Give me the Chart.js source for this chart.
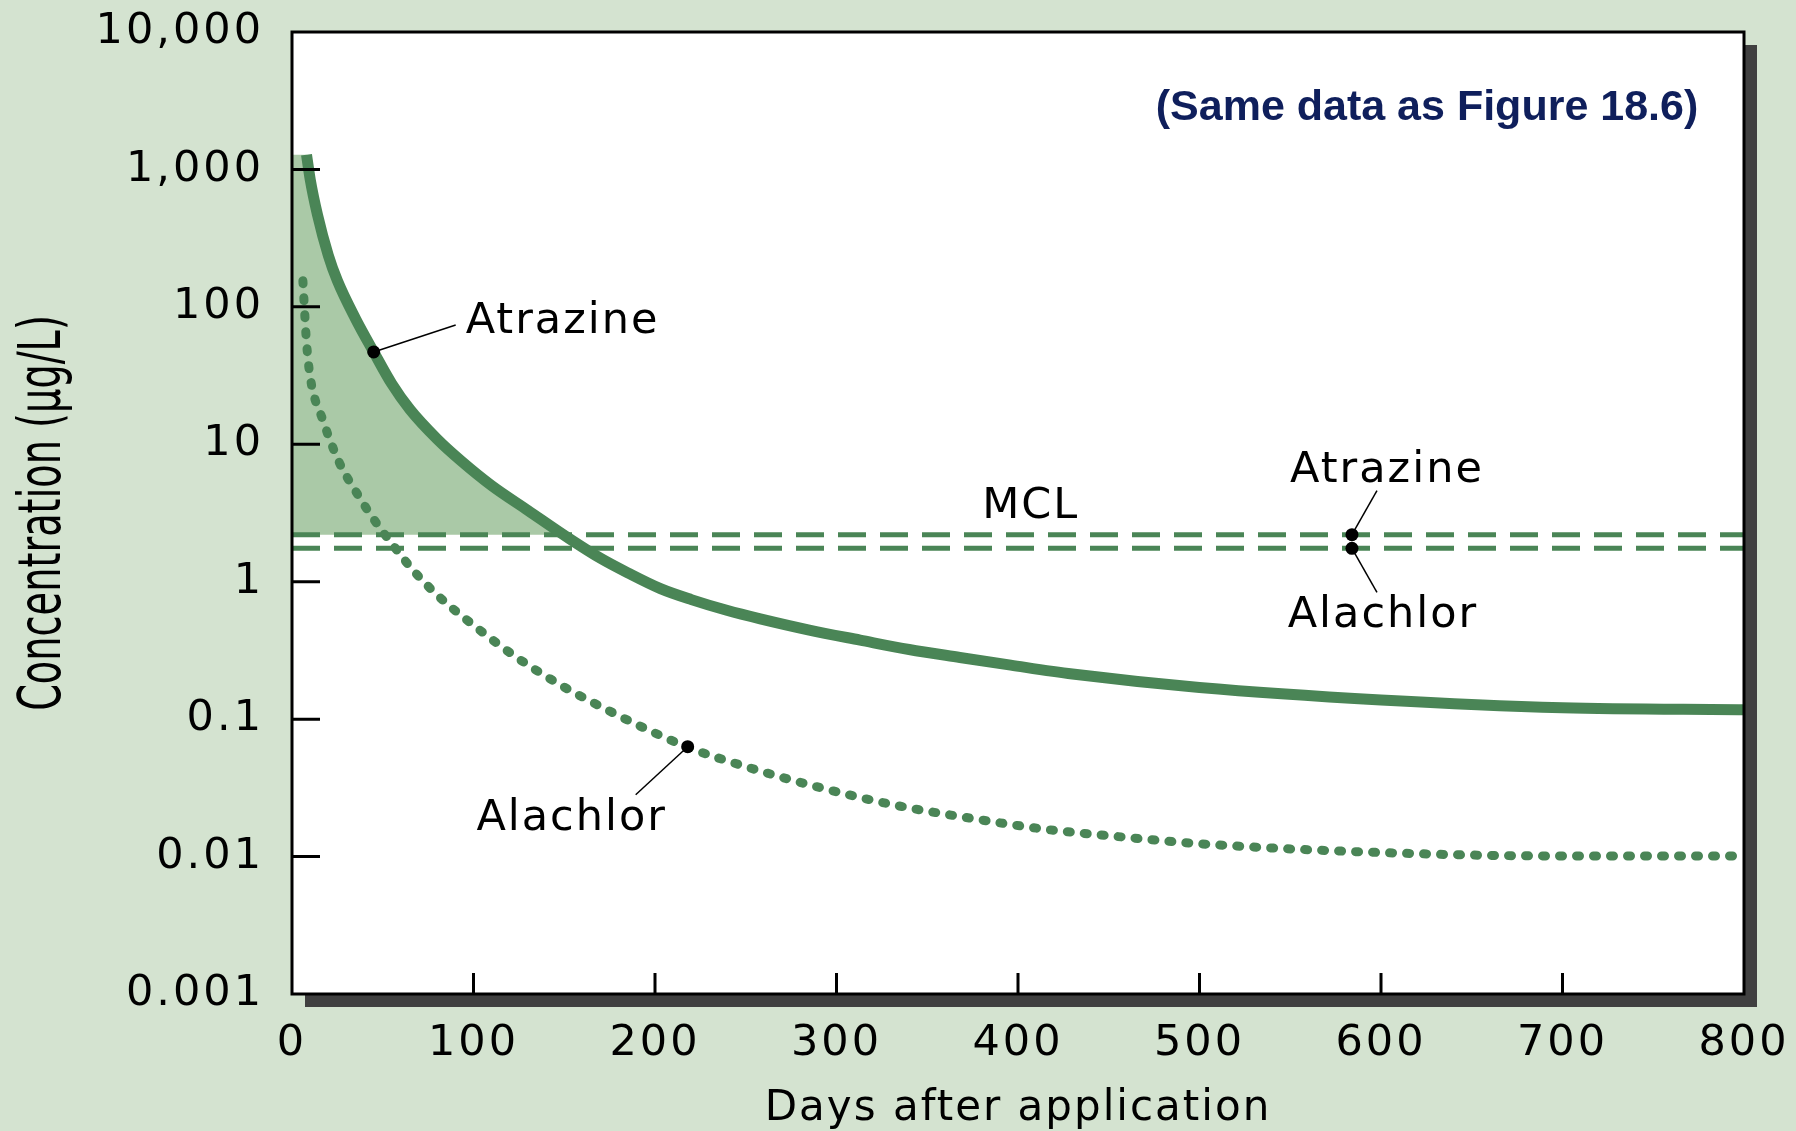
<!DOCTYPE html>
<html>
<head>
<meta charset="utf-8">
<script src="https://cdn.jsdelivr.net/npm/chart.js@4.4.1/dist/chart.umd.min.js"></script>
<style>
  html, body { margin: 0; padding: 0; background: #d4e3d0; }
  canvas { display: block; }
</style>
</head>
<body>
<canvas id="chart" width="1796" height="1131"></canvas>
<script>
// values: days after application vs concentration (ug/L)
const atrazineDays = [8, 10, 14, 20, 25, 35, 45, 55, 65, 80, 93, 110, 130, 153, 170, 185, 203, 220, 240, 258, 285, 313, 340, 368, 396, 430, 500, 600, 700, 800];
const atrazineConc = [1280, 850, 470, 237, 155, 82, 47, 27.5, 17.9, 10.9, 7.6, 5.0, 3.3, 2.05, 1.48, 1.16, 0.89, 0.741, 0.617, 0.537, 0.445, 0.376, 0.321, 0.281, 0.247, 0.213, 0.17, 0.138, 0.121, 0.117];

const alachlorDays = [6, 7, 8, 10, 17, 26, 36, 45, 56, 67, 80, 102, 124, 149, 177, 193, 218, 251, 292, 332, 374, 415, 452, 500, 600, 700, 795];
const alachlorConc = [155, 90, 55, 31, 15, 7.4, 4.35, 2.85, 1.82, 1.2, 0.8, 0.46, 0.28, 0.174, 0.111, 0.0875, 0.0625, 0.0447, 0.0315, 0.0237, 0.019, 0.0158, 0.0141, 0.0124, 0.0107, 0.0101, 0.0101];

// MCL levels
const mclDays = [0, 800];
const mclAtrazine = 2.2;
const mclAlachlor = 1.75;
const shadeEndDay = 153;

// black callout dots
const markerDays = [45, 218, 584, 584];
const markerConc = [47, 0.063, 2.2, 1.75];

const xTickValues = [0, 100, 200, 300, 400, 500, 600, 700, 800];
const yTickValues = [0.001, 0.01, 0.1, 1, 10, 100, 1000, 10000];
const yTickLabels = ['0.001', '0.01', '0.1', '1', '10', '100', '1,000', '10,000'];

const GREEN = '#4a8556';
const SHADE = '#aac9a7';
const LABEL_FONT = '"DejaVu Sans", sans-serif';

const pts = (xs, ys) => xs.map((x, i) => ({ x: x, y: ys[i] }));

const atrazinePts = pts(atrazineDays, atrazineConc);
const shadePts = [{ x: 0, y: atrazineConc[0] }].concat(atrazinePts.filter(p => p.x <= shadeEndDay));

// callout leader / label offsets in pixels from each marker
const callouts = [
  { text: 'Atrazine', marker: 0, leader: [82, -27], label: [92, -19], align: 'left' },
  { text: 'Alachlor', marker: 1, leader: [-52, 48], label: [-116, 83], align: 'center' },
  { text: 'Atrazine', marker: 2, leader: [25, -44], label: [35, -53], align: 'center' },
  { text: 'Alachlor', marker: 3, leader: [25, 44], label: [31, 79], align: 'center' },
];
const mclLabelDay = 407;

const decor = {
  id: 'decor',
  beforeDraw(chart) {
    const { ctx, chartArea: a } = chart;
    ctx.save();
    ctx.fillStyle = '#d4e3d0';
    ctx.fillRect(0, 0, chart.width, chart.height);
    ctx.fillStyle = '#404040';
    ctx.fillRect(a.left + 13, a.top + 13, a.right - a.left, a.bottom - a.top);
    ctx.fillStyle = '#ffffff';
    ctx.fillRect(a.left, a.top, a.right - a.left, a.bottom - a.top);
    ctx.restore();
    // wider spacing for the tick numbers
    ctx.letterSpacing = '3px';
  },
  afterDatasetsDraw(chart) {
    const { ctx, chartArea: a, scales } = chart;
    const xs = scales.x, ys = scales.y;
    ctx.save();

    // frame
    ctx.strokeStyle = '#000';
    ctx.lineWidth = 3;
    ctx.strokeRect(a.left, a.top, a.right - a.left, a.bottom - a.top);

    // inside tick marks
    ctx.beginPath();
    yTickValues.slice(1, -1).forEach(v => {
      const y = ys.getPixelForValue(v);
      ctx.moveTo(a.left, y);
      ctx.lineTo(a.left + 28, y);
    });
    xTickValues.slice(1, -1).forEach(v => {
      const x = xs.getPixelForValue(v);
      ctx.moveTo(x, a.bottom);
      ctx.lineTo(x, a.bottom - 21);
    });
    ctx.stroke();

    // callouts
    ctx.fillStyle = '#000';
    ctx.font = '43px ' + LABEL_FONT;
    ctx.letterSpacing = '2px';
    ctx.textBaseline = 'alphabetic';
    callouts.forEach(c => {
      const mx = xs.getPixelForValue(markerDays[c.marker]);
      const my = ys.getPixelForValue(markerConc[c.marker]);
      ctx.lineWidth = 1.5;
      ctx.beginPath();
      ctx.moveTo(mx, my);
      ctx.lineTo(mx + c.leader[0], my + c.leader[1]);
      ctx.stroke();
      ctx.textAlign = c.align;
      ctx.fillText(c.text, mx + c.label[0], my + c.label[1]);
    });
    ctx.textAlign = 'center';
    ctx.fillText('MCL', xs.getPixelForValue(mclLabelDay), ys.getPixelForValue(mclAtrazine) - 17);

    // axis titles
    ctx.font = '42px ' + LABEL_FONT;
    ctx.fillText('Days after application', (a.left + a.right) / 2, 1120);

    ctx.save();
    ctx.translate(60, (a.top + a.bottom) / 2);
    ctx.rotate(-Math.PI / 2);
    ctx.scale(0.66, 1);
    ctx.letterSpacing = '0px';
    ctx.font = '58px ' + LABEL_FONT;
    ctx.fillText('Concentration (\u00b5g/L)', 0, 0);
    ctx.restore();

    // note
    ctx.letterSpacing = '0px';
    ctx.font = 'bold 43px "Liberation Sans", Arial, sans-serif';
    ctx.fillStyle = '#0f1f5c';
    ctx.fillText('(Same data as Figure 18.6)', 1427, 120);

    ctx.restore();
  }
};

new Chart(document.getElementById('chart'), {
  type: 'line',
  data: {
    datasets: [
      {
        label: 'markers',
        data: pts(markerDays, markerConc),
        showLine: false,
        pointRadius: 6.5,
        pointBackgroundColor: '#000',
        pointBorderWidth: 0,
      },
      {
        label: 'Atrazine',
        data: atrazinePts,
        borderColor: GREEN,
        borderWidth: 11,
        borderCapStyle: 'butt',
        cubicInterpolationMode: 'monotone',
        pointRadius: 0,
        fill: false,
      },
      {
        label: 'Alachlor',
        data: pts(alachlorDays, alachlorConc),
        borderColor: GREEN,
        borderWidth: 9,
        borderDash: [3, 14],
        borderCapStyle: 'round',
        cubicInterpolationMode: 'monotone',
        pointRadius: 0,
        fill: false,
      },
      {
        label: 'MCL atrazine',
        data: mclDays.map(d => ({ x: d, y: mclAtrazine })),
        borderColor: GREEN,
        borderWidth: 5,
        borderDash: [28, 14],
        pointRadius: 0,
        fill: false,
      },
      {
        label: 'MCL alachlor',
        data: mclDays.map(d => ({ x: d, y: mclAlachlor })),
        borderColor: GREEN,
        borderWidth: 5,
        borderDash: [28, 14],
        pointRadius: 0,
        fill: false,
      },
      {
        label: 'above MCL',
        data: shadePts,
        borderWidth: 0,
        borderColor: 'rgba(0,0,0,0)',
        backgroundColor: SHADE,
        cubicInterpolationMode: 'monotone',
        pointRadius: 0,
        fill: { value: mclAtrazine },
      },
    ],
  },
  options: {
    responsive: false,
    animation: false,
    devicePixelRatio: 1,
    events: [],
    layout: { padding: { top: 32, right: 52, bottom: 0, left: 0 } },
    plugins: { legend: { display: false }, tooltip: { enabled: false } },
    scales: {
      x: {
        type: 'linear',
        min: 0,
        max: 800,
        afterBuildTicks: s => { s.ticks = xTickValues.map(v => ({ value: v })); },
        afterFit: s => { s.height = 137; s.paddingLeft = 0; s.paddingRight = 0; },
        grid: { display: false, drawTicks: false, tickLength: 0 },
        border: { display: false },
        ticks: {
          autoSkip: false,
          maxRotation: 0,
          padding: 24,
          color: '#000',
          font: { family: LABEL_FONT, size: 43 },
          callback: v => String(v),
        },
      },
      y: {
        type: 'logarithmic',
        min: 0.001,
        max: 10000,
        afterBuildTicks: s => { s.ticks = yTickValues.map(v => ({ value: v })); },
        afterFit: s => { s.width = 292; s.paddingTop = 0; s.paddingBottom = 0; },
        grid: { display: false, drawTicks: false, tickLength: 0 },
        border: { display: false },
        ticks: {
          autoSkip: false,
          padding: 28,
          color: '#000',
          font: { family: LABEL_FONT, size: 43 },
          callback: (v, i) => yTickLabels[i],
        },
      },
    },
  },
  plugins: [decor],
});
</script>
</body>
</html>
